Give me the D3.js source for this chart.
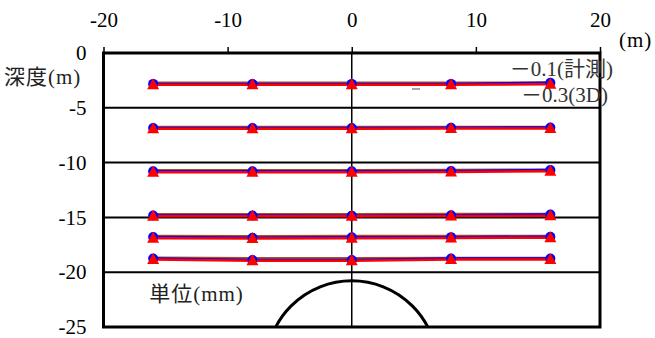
<!DOCTYPE html>
<head>
    <meta charset="utf-8">
    <script src="https://d3js.org/d3.v7.min.js"></script>
    <style>
        body { margin: 0; background: #fff; }
    </style>
</head>
<body>
    <svg></svg>
</body>

<script>
    // Data (x position in m, plotted depth in m)
    var xPos = [-16, -8, 0, 8, 16];
    var measured = [
        [-2.82, -2.82, -2.82, -2.82, -2.72],
        [-6.85, -6.85, -6.85, -6.83, -6.79],
        [-10.79, -10.79, -10.8, -10.77, -10.68],
        [-14.82, -14.82, -14.84, -14.8, -14.73],
        [-16.79, -16.85, -16.82, -16.8, -16.76],
        [-18.75, -18.88, -18.88, -18.75, -18.75]
    ];
    var sim3D = [
        [-2.9, -2.9, -2.9, -2.9, -2.85],
        [-6.92, -6.92, -6.92, -6.9, -6.88],
        [-10.88, -10.88, -10.87, -10.85, -10.8],
        [-14.9, -14.9, -14.9, -14.88, -14.85],
        [-16.9, -16.93, -16.9, -16.88, -16.85],
        [-18.85, -18.95, -18.95, -18.85, -18.85]
    ];
    var other = [
        [-2.72, -2.72, -2.72, -2.72, -2.7],
        [-6.75, -6.75, -6.75, -6.75, -6.75],
        [-10.7, -10.7, -10.7, -10.68, -10.65],
        [-14.72, -14.72, -14.72, -14.7, -14.7],
        [-16.7, -16.72, -16.7, -16.7, -16.7],
        [-18.68, -18.72, -18.72, -18.7, -18.7]
    ];
    var xTicks = [-20, -10, 0, 10, 20];
    var yTicks = [0, -5, -10, -15, -20, -25];
    var gridDepths = [-5, -10, -15, -20];
    var legendLabels = ["－0.1(計測)", "－0.3(3D)"];
    // tunnel
    var tunnelX = 0, tunnelDepth = -28.6, tunnelRadius = 6.9;

    // Variables
    var width = 655, height = 338;
    var margin = {top: 53, right: 55, bottom: 11, left: 103.5};
    var w = width - margin.left - margin.right;
    var h = height - margin.top - margin.bottom;
    var latin = "'Liberation Serif', serif";
    var mixed = "'Liberation Serif', 'Noto Sans CJK JP'";

    var svg = d3.select('svg')
        .attr('width', width)
        .attr('height', height);

    var g = svg.append('g')
        .attr('transform', 'translate(' + margin.left + ',' + margin.top + ')');

    var x = d3.scaleLinear().domain([-20, 20]).range([0, w]);
    var y = d3.scaleLinear().domain([0, -25]).range([0, h]);

    // clip for the plot area
    svg.append('defs').append('clipPath').attr('id', 'clip')
        .append('rect').attr('width', w).attr('height', h);

    // grid lines
    g.selectAll('.grid')
        .data(gridDepths)
        .enter().append('line')
        .attr('x1', 0).attr('x2', w)
        .attr('y1', function (d) { return y(d); })
        .attr('y2', function (d) { return y(d); })
        .style('stroke', '#000')
        .style('stroke-width', 2);

    g.append('line')
        .attr('x1', x(0)).attr('x2', x(0))
        .attr('y1', 0).attr('y2', h)
        .style('stroke', '#000')
        .style('stroke-width', 1.5);

    // tunnel
    g.append('circle')
        .attr('clip-path', 'url(#clip)')
        .attr('cx', x(tunnelX))
        .attr('cy', y(tunnelDepth))
        .attr('r', x(tunnelRadius) - x(0))
        .style('fill', 'none')
        .style('stroke', '#000')
        .style('stroke-width', 3);

    // lines
    var line = d3.line()
        .x(function (d, i) { return x(xPos[i]); })
        .y(function (d) { return y(d); });

    function drawSeries(data, color, sw) {
        g.append('g').selectAll('path')
            .data(data)
            .enter().append('path')
            .attr('d', line)
            .style('fill', 'none')
            .style('stroke', color)
            .style('stroke-width', sw);
    }
    drawSeries(other, '#a0522d', 2.5);
    drawSeries(measured, '#0000ff', 2.5);
    drawSeries(sim3D, '#ff0000', 2.5);

    // markers
    var circles = [];
    measured.forEach(function (row) {
        row.forEach(function (v, i) { circles.push([xPos[i], v]); });
    });
    g.append('g').selectAll('circle')
        .data(circles)
        .enter().append('circle')
        .attr('cx', function (d) { return x(d[0]); })
        .attr('cy', function (d) { return y(d[1]); })
        .attr('r', 5)
        .style('fill', '#0000ff');

    var tris = [];
    sim3D.forEach(function (row) {
        row.forEach(function (v, i) { tris.push([xPos[i], v]); });
    });
    g.append('g').selectAll('path')
        .data(tris)
        .enter().append('path')
        .attr('d', function (d) {
            var cx = x(d[0]), cy = y(d[1]);
            return 'M' + cx + ',' + (cy - 6.5) + 'L' + (cx + 6) + ',' + (cy + 4.5) +
                'L' + (cx - 6) + ',' + (cy + 4.5) + 'Z';
        })
        .style('fill', '#ff0000');

    // frame
    g.append('rect')
        .attr('width', w).attr('height', h)
        .style('fill', 'none')
        .style('stroke', '#000')
        .style('stroke-width', 3);

    // axes
    var fmt = function (d) { return String(d); };
    var xAxis = g.append('g')
        .call(d3.axisTop(x).tickValues(xTicks).tickSize(6).tickPadding(20).tickFormat(fmt))
        .attr('font-family', latin)
        .attr('font-size', 21);
    xAxis.select('.domain').remove();
    xAxis.selectAll('line').style('stroke', '#000').style('stroke-width', 1.5);
    xAxis.selectAll('text').attr('fill', '#000');

    var yAxis = g.append('g')
        .call(d3.axisLeft(y).tickValues(yTicks).tickSize(0).tickPadding(17).tickFormat(fmt))
        .attr('font-family', latin)
        .attr('font-size', 21);
    yAxis.select('.domain').remove();
    yAxis.selectAll('text').attr('fill', '#000');

    // labels
    svg.append('text')
        .attr('x', 4).attr('y', 84)
        .attr('font-family', mixed)
        .attr('font-size', 21)
        .style('letter-spacing', '1px')
        .attr('fill', '#222')
        .text('深度(m)');

    svg.append('text')
        .attr('x', 619).attr('y', 47)
        .attr('font-family', latin)
        .attr('font-size', 21)
        .style('letter-spacing', '1px')
        .attr('fill', '#000')
        .text('(m)');

    g.append('text')
        .attr('x', x(-16) - 4).attr('y', y(-22.6))
        .attr('font-family', mixed)
        .attr('font-size', 21)
        .style('letter-spacing', '1px')
        .attr('fill', '#222')
        .text('単位(mm)');

    // legend
    var lg = svg.append('g');
    lg.selectAll('text')
        .data(legendLabels)
        .enter().append('text')
        .attr('x', function (d, i) { return i ? 608 : 613; })
        .attr('y', function (d, i) { return 76 + i * 26; })
        .attr('text-anchor', 'end')
        .attr('font-family', mixed)
        .attr('font-size', 21)
        .attr('fill', '#333')
        .text(function (d) { return d; });
    lg.append('line')
        .attr('x1', 412).attr('x2', 420)
        .attr('y1', 89).attr('y2', 89)
        .style('stroke', '#888')
        .style('stroke-width', 1.5);
</script>
